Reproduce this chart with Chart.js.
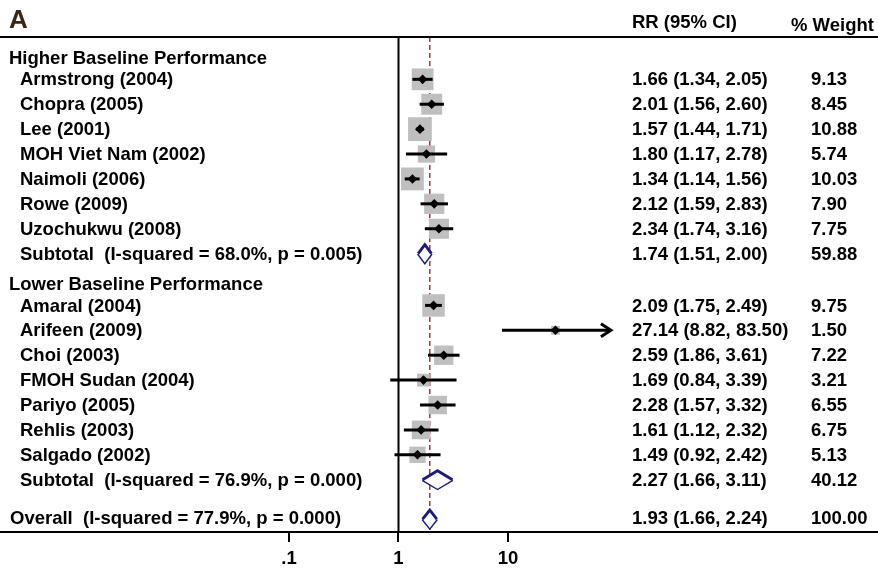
<!DOCTYPE html>
<html><head><meta charset="utf-8">
<script src="https://cdn.jsdelivr.net/npm/chart.js@4/dist/chart.umd.min.js"></script>
<style>html,body{margin:0;padding:0;background:#fff}#wrap{width:878px;height:569px;position:relative}</style>
</head><body><div id="wrap"><canvas id="c"></canvas></div>
<script>
// ---------------- data ----------------
const panelLetter = 'A';
const groupNames = ['Higher Baseline Performance', 'Lower Baseline Performance'];

const studiesHigher = ['Armstrong (2004)', 'Chopra (2005)', 'Lee (2001)', 'MOH Viet Nam (2002)', 'Naimoli (2006)', 'Rowe (2009)', 'Uzochukwu (2008)'];
const rrHigher = [1.66, 2.01, 1.57, 1.80, 1.34, 2.12, 2.34];
const loHigher = [1.34, 1.56, 1.44, 1.17, 1.14, 1.59, 1.74];
const hiHigher = [2.05, 2.60, 1.71, 2.78, 1.56, 2.83, 3.16];
const wHigher  = [9.13, 8.45, 10.88, 5.74, 10.03, 7.90, 7.75];

const studiesLower = ['Amaral (2004)', 'Arifeen (2009)', 'Choi (2003)', 'FMOH Sudan (2004)', 'Pariyo (2005)', 'Rehlis (2003)', 'Salgado (2002)'];
const rrLower = [2.09, 27.14, 2.59, 1.69, 2.28, 1.61, 1.49];
const loLower = [1.75, 8.82, 1.86, 0.84, 1.57, 1.12, 0.92];
const hiLower = [2.49, 83.50, 3.61, 3.39, 3.32, 2.32, 2.42];
const wLower  = [9.75, 1.50, 7.22, 3.21, 6.55, 6.75, 5.13];

const subtotalLabels = ['Subtotal  (I-squared = 68.0%, p = 0.005)', 'Subtotal  (I-squared = 76.9%, p = 0.000)'];
const subtotalRR = [1.74, 2.27];
const subtotalLo = [1.51, 1.66];
const subtotalHi = [2.00, 3.11];
const subtotalW  = [59.88, 40.12];

const overallLabel = 'Overall  (I-squared = 77.9%, p = 0.000)';
const overallRR = 1.93, overallLo = 1.66, overallHi = 2.24, overallW = 100.00;

const colHeaders = ['RR (95% CI)', '% Weight'];
const xTickValues = [0.1, 1, 10];
const xTickLabels = ['.1', '1', '10'];

// ---------------- layout (rows in row units) ----------------
const groups = [
  {name: groupNames[0], studies: studiesHigher, rr: rrHigher, lo: loHigher, hi: hiHigher, w: wHigher,
   sub: {label: subtotalLabels[0], rr: subtotalRR[0], lo: subtotalLo[0], hi: subtotalHi[0], w: subtotalW[0]}},
  {name: groupNames[1], studies: studiesLower, rr: rrLower, lo: loLower, hi: hiLower, w: wLower,
   sub: {label: subtotalLabels[1], rr: subtotalRR[1], lo: subtotalLo[1], hi: subtotalHi[1], w: subtotalW[1]}}
];
const HEADER_LEAD = 0.82, GROUP_GAP = 1.08, OVERALL_GAP = 1.58;
const headerRows = [], studyRows = [], subRows = [];
let r = 1;
groups.forEach((g, gi) => {
  headerRows.push(r - HEADER_LEAD);
  const rows = g.studies.map((_, i) => r + i);
  studyRows.push(rows);
  r += g.studies.length;
  subRows.push(r);
  r += 1 + GROUP_GAP;
});
const overallRow = subRows[1] + OVERALL_GAP;

const Y_MIN = -0.70, Y_MAX = 19.18;
const X_ONE_PX = 398.5, DECADE_PX = 109.5, W = 878;
const X_MIN = Math.pow(10, -X_ONE_PX / DECADE_PX);
const X_MAX = Math.pow(10, (W - X_ONE_PX) / DECADE_PX);
const BOX_K = 7.2; // px per sqrt(weight)

const FONT = '"Liberation Sans", Arial, Helvetica, sans-serif';
const NAVY = '#1c1a7a';

// ---------------- datasets ----------------
const datasets = [];
const boxData = [], boxRadius = [], markData = [];
groups.forEach((g, gi) => {
  g.rr.forEach((v, i) => {
    const y = studyRows[gi][i];
    boxData.push({x: v, y});
    boxRadius.push(BOX_K * Math.sqrt(g.w[i]) / Math.SQRT2);
    markData.push({x: v, y});
    datasets.push({type: 'scatter', data: [{x: g.lo[i], y}, {x: g.hi[i], y}], showLine: true,
      borderColor: '#000', borderWidth: 3, pointRadius: 0, order: 2, borderCapStyle: 'butt'});
  });
});
datasets.push({type: 'scatter', data: boxData, pointStyle: 'rect', pointRadius: boxRadius,
  backgroundColor: '#bfbfbf', borderWidth: 0, order: 5});
datasets.push({type: 'scatter', data: markData, pointStyle: 'rectRot', pointRadius: 4.8,
  backgroundColor: '#000', borderWidth: 0, order: 1});

const diamonds = groups.map((g, gi) => ({rr: g.sub.rr, lo: g.sub.lo, hi: g.sub.hi, y: subRows[gi]}));
diamonds.push({rr: overallRR, lo: overallLo, hi: overallHi, y: overallRow});
const DH = 0.36;
diamonds.forEach(d => {
  datasets.push({type: 'scatter', showLine: true, data: [{x: d.lo, y: d.y}, {x: d.rr, y: d.y - DH}, {x: d.hi, y: d.y}],
    borderColor: NAVY, borderWidth: 2.8, pointRadius: 0, fill: '+1', backgroundColor: '#fff', order: 0, borderJoinStyle: 'miter'});
  datasets.push({type: 'scatter', showLine: true, data: [{x: d.lo, y: d.y}, {x: d.rr, y: d.y + DH}, {x: d.hi, y: d.y}],
    borderColor: NAVY, borderWidth: 2.8, pointRadius: 0, fill: false, order: 0, borderJoinStyle: 'miter'});
});

// ---------------- plugin for lines and text ----------------
const forestPlugin = {
  id: 'forest',
  beforeDatasetsDraw(chart) {
    const {ctx, chartArea: a, scales: {x}} = chart;
    ctx.save();
    const x1 = x.getPixelForValue(1);
    ctx.strokeStyle = '#000'; ctx.lineWidth = 2;
    ctx.beginPath(); ctx.moveTo(x1, a.top); ctx.lineTo(x1, a.bottom); ctx.stroke();
    const xo = x.getPixelForValue(overallRR);
    ctx.strokeStyle = '#a8323a'; ctx.lineWidth = 1.5; ctx.setLineDash([5, 3]);
    ctx.beginPath(); ctx.moveTo(xo, a.top); ctx.lineTo(xo, a.bottom); ctx.stroke();
    ctx.restore();
  },
  afterDatasetsDraw(chart) {
    const {ctx, scales: {x, y}} = chart;
    ctx.save();
    groups.forEach((g, gi) => g.hi.forEach((h, i) => {
      if (h > 50) {
        const px = x.getPixelForValue(h), py = y.getPixelForValue(studyRows[gi][i]);
        ctx.strokeStyle = '#000'; ctx.lineWidth = 3; ctx.lineJoin = 'miter';
        ctx.beginPath(); ctx.moveTo(px - 8, py - 6.5); ctx.lineTo(px + 2, py); ctx.lineTo(px - 8, py + 6.5); ctx.stroke();
      }
    }));
    ctx.restore();
  },
  afterDraw(chart) {
    const {ctx, chartArea: a, scales: {y}} = chart;
    ctx.save();
    ctx.strokeStyle = '#000'; ctx.lineWidth = 2;
    ctx.beginPath(); ctx.moveTo(0, a.top); ctx.lineTo(chart.width, a.top); ctx.stroke();
    ctx.fillStyle = '#3a2616'; ctx.textBaseline = 'middle'; ctx.textAlign = 'left';
    ctx.font = 'bold 26px ' + FONT;
    ctx.fillText(panelLetter, 9, 21);
    ctx.fillStyle = '#000';
    ctx.font = 'bold 18.5px ' + FONT;
    ctx.fillText(colHeaders[0], 632, 23);
    ctx.fillText(colHeaders[1], 791, 26);
    const fmt = (rr, lo, hi) => rr.toFixed(2) + ' (' + lo.toFixed(2) + ', ' + hi.toFixed(2) + ')';
    groups.forEach((g, gi) => {
      ctx.fillText(g.name, 9, y.getPixelForValue(headerRows[gi]));
      g.studies.forEach((s, i) => {
        const py = y.getPixelForValue(studyRows[gi][i]);
        ctx.fillText(s, 20, py + 1);
        ctx.fillText(fmt(g.rr[i], g.lo[i], g.hi[i]), 632, py + 1);
        ctx.fillText(g.w[i].toFixed(2), 811, py + 1);
      });
      const sy = y.getPixelForValue(subRows[gi]);
      ctx.fillText(g.sub.label, 20, sy + 1);
      ctx.fillText(fmt(g.sub.rr, g.sub.lo, g.sub.hi), 632, sy + 1);
      ctx.fillText(g.sub.w.toFixed(2), 811, sy + 1);
    });
    const oy = y.getPixelForValue(overallRow);
    ctx.fillText(overallLabel, 10, oy);
    ctx.fillText(fmt(overallRR, overallLo, overallHi), 632, oy);
    ctx.fillText(overallW.toFixed(2), 811, oy);
    ctx.restore();
  }
};

new Chart(document.getElementById('c'), {
  data: {datasets},
  options: {
    responsive: true, maintainAspectRatio: false, animation: false,
    layout: {autoPadding: false, padding: {top: 37, left: 0, right: 0, bottom: 0}},
    plugins: {legend: {display: false}, tooltip: {enabled: false}, filler: {propagate: false}},
    scales: {
      x: {
        type: 'logarithmic', position: 'bottom', min: X_MIN, max: X_MAX,
        afterBuildTicks: s => { s.ticks = xTickValues.map(v => ({value: v})); },
        afterFit: s => { s.height = 37; s.paddingLeft = 0; s.paddingRight = 0; },
        ticks: {callback: (v, i) => xTickLabels[i], color: '#000', padding: 6, maxRotation: 0, autoSkip: false,
          font: {family: FONT, size: 18.5, weight: 'bold'}},
        grid: {drawOnChartArea: false, drawTicks: true, tickLength: 10, color: '#000', lineWidth: 2},
        border: {display: true, color: '#000', width: 2}
      },
      y: {type: 'linear', display: false, reverse: true, min: Y_MIN, max: Y_MAX}
    }
  },
  plugins: [forestPlugin]
});
</script>
</body></html>
